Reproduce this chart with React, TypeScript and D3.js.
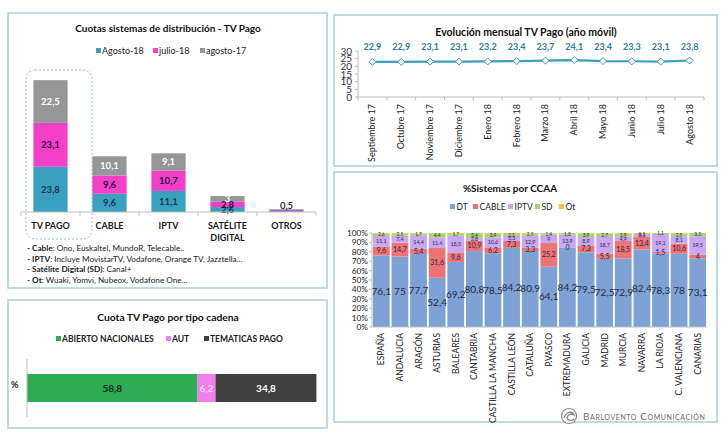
import * as d3 from 'd3'

const FONT = 'Lato, Carlito, Calibri, sans-serif'
const BORDER = '#a9d0d8'

// ── Cuotas sistemas de distribución ──
const distCats = ['TV PAGO', 'CABLE', 'IPTV', 'SATÉLITE DIGITAL', 'OTROS']
const distSeries = ['Agosto-18', 'julio-18', 'agosto-17']
const ago18 = [23.8, 9.6, 11.1, 2.6, 0.5]
const jul18 = [23.1, 9.6, 10.7, 2.8, 0.6]
const ago17 = [22.5, 10.1, 9.1, 3.0, 0.4]
const distColors = ['#3aa0bf', '#f43fc8', '#969696']
const distLabelColors = ['#1c3550', '#2a1140', '#ffffff']

const notes = [
  ['- Cable', ': Ono, Euskaltel, MundoR, Telecable..'],
  ['- IPTV', ': Incluye MovistarTV, Vodafone, Orange TV, Jazztella...'],
  ['- Satélite Digital (SD)', ': Canal+'],
  ['- Ot', ': Wuaki, Yomvi, Nubeox, Vodafone One...'],
]

// ── Cuota TV Pago por tipo cadena ──
const cadenaCats = ['ABIERTO NACIONALES', 'AUT', 'TEMATICAS PAGO']
const cadenaVals = [58.8, 6.2, 34.8]
const cadenaColors = ['#2eab55', '#f27eee', '#404040']
const cadenaLabelColors = ['#102a12', '#ffd6fb', '#ffffff']

// ── Evolución mensual ──
const months = ['Septiembre 17', 'Octubre 17', 'Noviembre 17', 'Diciembre 17', 'Enero 18', 'Febrero 18',
  'Marzo 18', 'Abril 18', 'Mayo 18', 'Junio 18', 'Julio 18', 'Agosto 18']
const monthVals = [22.9, 22.9, 23.1, 23.1, 23.2, 23.4, 23.7, 24.1, 23.4, 23.3, 23.1, 23.8]
const yTicksLine = [0, 5, 10, 15, 20, 25, 30]

// ── %Sistemas por CCAA ──
const ccaa = ['ESPAÑA', 'ANDALUCIA', 'ARAGÓN', 'ASTURIAS', 'BALEARES', 'CANTABRIA', 'CASTILLA LA MANCHA',
  'CASTILLA LEÓN', 'CATALUÑA', 'P.VASCO', 'EXTREMADURA', 'GALICIA', 'MADRID', 'MURCIA', 'NAVARRA',
  'LA RIOJA', 'C. VALENCIANA', 'CANARIAS']
const sysKeys = ['DT', 'CABLE', 'IPTV', 'SD', 'Ot']
const dt = [76.1, 75, 77.7, 52.4, 69.2, 80.8, 78.5, 84.2, 80.9, 64.1, 84.2, 79.5, 72.5, 72.9, 82.4, 78.3, 78, 73.1]
const cable = [9.6, 14.7, 5.4, 31.6, 9.6, 10.9, 6.2, 7.3, 3.3, 25.2, 0, 7.3, 5.5, 18.5, 13.4, 1.5, 10.6, 4]
const iptv = [11.1, 7.4, 14.4, 11.4, 18.5, 2.8, 10.6, 5.3, 12.9, 9, 13.9, 8.9, 18.7, 4.9, 3.1, 19.1, 8.1, 19.5]
const sd = [2.6, 2.5, 1.7, 4.4, 1.7, 5.4, 3.9, 2.1, 2.5, 1.4, 1.8, 3.9, 2.7, 2.9, 0.1, 1.1, 2.5, 3.3]
const ot = [0.6, 0.4, 0.8, 0.2, 1.0, 0.1, 0.8, 1.1, 0.4, 0.3, 0.1, 0.4, 0.6, 0.8, 1.0, 0, 0.8, 0.1]
const sysValues = [dt, cable, iptv, sd, ot]
const sysColors = ['#7ea2d5', '#ef7274', '#c9a7f3', '#a8d46e', '#f4c244']
const yTicksPct = [0, 10, 20, 30, 40, 50, 60, 70, 80, 90, 100]

const fmt = (v: number) => String(v).replace('.', ',')

function DistChart() {
  const x = d3.scaleBand().domain(distCats).range([21, 316]).paddingInner(0.42).paddingOuter(0.21)
  const y = d3.scaleLinear().domain([0, 70]).range([212, 79])
  const distValues = [ago18, jul18, ago17]
  const rows = distCats.map((c, i) => ({ cat: c, 'Agosto-18': ago18[i], 'julio-18': jul18[i], 'agosto-17': ago17[i] }))
  const stacked = d3.stack<any>().keys(distSeries)(rows)
  const step = x.step()
  const legendX = [96, 153, 200]
  return (
    <g>
      <rect x={8} y={13} width={319} height={275} fill="#fff" stroke={BORDER} strokeWidth={1.5} />
      <text x={168} y={32} textAnchor="middle" fontWeight={700} fontSize={10} fill="#111">
        Cuotas sistemas de distribución - TV Pago
      </text>
      {distSeries.map((s, i) => (
        <g key={s}>
          <rect x={legendX[i]} y={48} width={5} height={5} fill={distColors[i]} />
          <text x={legendX[i] + 6} y={54} fontSize={9} fill="#222">{s}</text>
        </g>
      ))}
      <rect x={26} y={70} width={66} height={169} rx={9} fill="none" stroke="#8cc2dc" strokeDasharray="2 2" />
      {stacked.map((layer, li) => (
        <g key={layer.key}>
          {layer.map((d, i) => (
            <rect key={i} x={x(distCats[i])} y={y(d[1])} width={x.bandwidth()} height={y(d[0]) - y(d[1])}
              fill={distColors[li]} />
          ))}
        </g>
      ))}
      {stacked.map((layer, li) => (
        <g key={layer.key}>
          {layer.map((d, i) => {
            const val = distValues[li][i]
            const small = val < 1
            if (small && li > 0) return null
            return (
              <text key={i} x={x(distCats[i])! + x.bandwidth() / 2}
                y={small ? y(d[1]) - 2 : (y(d[0]) + y(d[1])) / 2 + 3.3}
                textAnchor="middle" fontWeight={700} fontSize={9.5}
                fill={small ? '#1c3550' : distLabelColors[li]}>{fmt(val)}</text>
            )
          })}
        </g>
      ))}
      <line x1={21} x2={316} y1={212} y2={212} stroke="#bdbdbd" />
      {d3.range(distCats.length + 1).map((i) => (
        <line key={i} x1={21 + i * step} x2={21 + i * step} y1={212} y2={216} stroke="#bdbdbd" />
      ))}
      {distCats.map((c) => {
        const cx = x(c)! + x.bandwidth() / 2
        const parts = c.length > 8 ? c.split(' ') : [c]
        return (
          <text key={c} x={cx} y={229} textAnchor="middle" fontWeight={700} fontSize={9} fill="#1a1a1a">
            {parts.map((p, k) => <tspan key={k} x={cx} dy={k === 0 ? 0 : 12}>{p}</tspan>)}
          </text>
        )
      })}
      {notes.map(([b, r], i) => (
        <text key={i} x={27} y={251 + i * 10.5} fontSize={8.2} fill="#222">
          <tspan fontWeight={700}>{b}</tspan>{r}
        </text>
      ))}
    </g>
  )
}

function CadenaChart() {
  const x = d3.scaleLinear().domain([0, 100]).range([27, 317])
  const starts = d3.cumsum([0, ...cadenaVals])
  const legendX = [56, 166, 204]
  return (
    <g>
      <rect x={8} y={300} width={319} height={128} fill="#fff" stroke={BORDER} strokeWidth={1.5} />
      <text x={168} y={321} textAnchor="middle" fontWeight={700} fontSize={10.3} fill="#111">
        Cuota TV Pago por tipo cadena
      </text>
      {cadenaCats.map((c, i) => (
        <g key={c}>
          <rect x={legendX[i]} y={336} width={5} height={5} fill={cadenaColors[i]} />
          <text x={legendX[i] + 6} y={342} fontSize={8.5} fontWeight={700} fill="#222">{c}</text>
        </g>
      ))}
      {cadenaVals.map((v, i) => (
        <g key={i}>
          <rect x={x(starts[i])} y={374} width={x(starts[i] + v) - x(starts[i])} height={28} fill={cadenaColors[i]} />
          <text x={(x(starts[i]) + x(starts[i] + v)) / 2} y={392} textAnchor="middle" fontWeight={700}
            fontSize={10} fill={cadenaLabelColors[i]}>{fmt(v)}</text>
        </g>
      ))}
      <line x1={27} x2={27} y1={359} y2={417} stroke="#bdbdbd" />
      <text x={11} y={388} fontSize={9} fontWeight={700} fill="#222">%</text>
    </g>
  )
}

function LineChart() {
  const x = d3.scaleBand().domain(months).range([358, 704])
  const y = d3.scaleLinear().domain([0, 30]).range([97, 51])
  const cx = (m: string) => x(m)! + x.bandwidth() / 2
  const line = d3.line<number>().x((_, i) => cx(months[i])).y((v) => y(v))
  return (
    <g>
      <rect x={334} y={15} width={383} height={151} fill="#fff" stroke={BORDER} strokeWidth={1.5} />
      <text x={526} y={36} textAnchor="middle" fontWeight={700} fontSize={10.5} fill="#111">
        Evolución mensual TV Pago (año móvil)
      </text>
      <line x1={358} x2={358} y1={51} y2={97} stroke="#bdbdbd" />
      {yTicksLine.map((t) => (
        <g key={t}>
          <line x1={355} x2={358} y1={y(t)} y2={y(t)} stroke="#bdbdbd" />
          <text x={352} y={y(t) + 3.5} textAnchor="end" fontSize={10} fill="#333">{t}</text>
        </g>
      ))}
      <line x1={358} x2={704} y1={97} y2={97} stroke="#bdbdbd" />
      {d3.range(months.length + 1).map((i) => (
        <line key={i} x1={358 + i * x.step()} x2={358 + i * x.step()} y1={97} y2={100} stroke="#bdbdbd" />
      ))}
      <path d={line(monthVals)!} fill="none" stroke="#3a9fc0" strokeWidth={2.2} />
      {monthVals.map((v, i) => {
        const px = cx(months[i])
        const py = y(v)
        return (
          <g key={i}>
            <path d={`M${px},${py - 3.5}L${px + 3.5},${py}L${px},${py + 3.5}L${px - 3.5},${py}Z`}
              fill="#fff" stroke="#3a9fc0" strokeWidth={1} />
            <text x={px} y={50} textAnchor="middle" fontWeight={700} fontSize={9} fill="#2d7d96">{fmt(v)}</text>
          </g>
        )
      })}
      {months.map((m) => (
        <text key={m} transform={`translate(${cx(m) + 3},${104}) rotate(-90)`} textAnchor="end" fontSize={9} fill="#222">{m}</text>
      ))}
    </g>
  )
}

function CcaaChart() {
  const x = d3.scaleBand().domain(ccaa).range([372, 707]).paddingInner(0.1).paddingOuter(0.05)
  const y = d3.scaleLinear().domain([0, 100]).range([327, 233])
  const rows = ccaa.map((c, i) => ({ cat: c, DT: dt[i], CABLE: cable[i], IPTV: iptv[i], SD: sd[i], Ot: ot[i] }))
  const stacked = d3.stack<any>().keys(sysKeys)(rows)
  const legendX = [450, 473, 508, 535, 559]
  const labelSize = [10, 7, 5.3, 4.8, 0]
  return (
    <g>
      <rect x={334} y={172} width={383} height={250} fill="#fff" stroke={BORDER} strokeWidth={1.5} />
      <text x={510} y={192} textAnchor="middle" fontWeight={700} fontSize={10} fill="#111">%Sistemas por CCAA</text>
      {sysKeys.map((k, i) => (
        <g key={k}>
          <rect x={legendX[i]} y={204} width={5} height={5} fill={sysColors[i]} />
          <text x={legendX[i] + 6.5} y={210} fontSize={8.5} fill="#222">{k}</text>
        </g>
      ))}
      {yTicksPct.map((t) => (
        <g key={t}>
          <line x1={369} x2={372} y1={y(t)} y2={y(t)} stroke="#bdbdbd" />
          <text x={368} y={y(t) + 3} textAnchor="end" fontSize={8.3} fill="#222">{t}%</text>
        </g>
      ))}
      {stacked.map((layer, li) => (
        <g key={layer.key}>
          {layer.map((d, i) => (
            <rect key={i} x={x(ccaa[i])} y={y(d[1])} width={x.bandwidth()} height={Math.max(0, y(d[0]) - y(d[1]))}
              fill={sysColors[li]} />
          ))}
        </g>
      ))}
      {stacked.map((layer, li) => labelSize[li] > 0 && (
        <g key={layer.key}>
          {layer.map((d, i) => (
            <text key={i} x={x(ccaa[i])! + x.bandwidth() / 2} y={(y(d[0]) + y(d[1])) / 2 + labelSize[li] * 0.35}
              textAnchor="middle" fontSize={labelSize[li]} fill="#1f2a44">{fmt(sysValues[li][i])}</text>
          ))}
        </g>
      ))}
      <line x1={372} x2={372} y1={233} y2={327} stroke="#bdbdbd" />
      <line x1={372} x2={707} y1={327} y2={327} stroke="#bdbdbd" />
      {ccaa.map((c) => (
        <text key={c} transform={`translate(${x(c)! + x.bandwidth() / 2 + 3},${333}) rotate(-90)`}
          textAnchor="end" fontSize={8.5} fill="#222">{c}</text>
      ))}
      <g transform="translate(569,416)">
        <circle r={7.5} fill="#fff" stroke="#8a8a8a" strokeWidth={1.2} />
        <path d="M-5,2 C-3,-5 4,-5 5,-1 C2,-3 -1,-2 -2,2 C-1,5 3,5 5,3" fill="none" stroke="#8a8a8a" strokeWidth={1.3} />
      </g>
      <text x={583} y={420} fontSize={10} fill="#6b6b6b" letterSpacing={0.6} style={{ fontVariant: 'small-caps' }}>
        Barlovento Comunicación
      </text>
    </g>
  )
}

export default function App() {
  return (
    <div style={{ position: 'absolute', left: 0, top: 0 }}>
      <svg width={728} height={436} style={{ display: 'block', fontFamily: FONT }}>
        <rect width={728} height={436} fill="#fff" />
        <DistChart />
        <CadenaChart />
        <LineChart />
        <CcaaChart />
      </svg>
    </div>
  )
}
